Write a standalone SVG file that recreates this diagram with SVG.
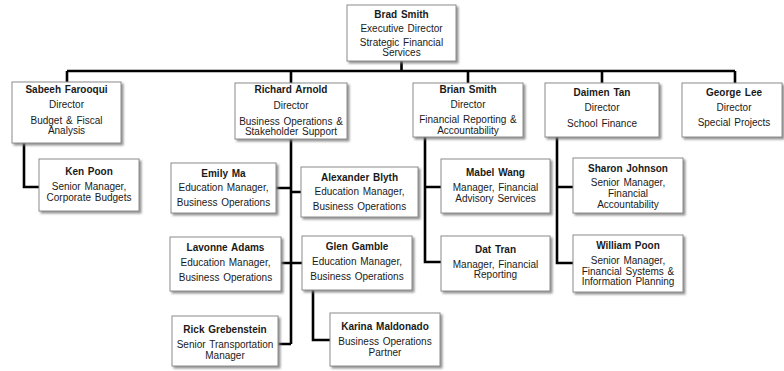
<svg xmlns="http://www.w3.org/2000/svg" width="784" height="371" viewBox="0 0 784 371">
<defs>
<filter id="sh" x="-10%" y="-10%" width="125%" height="130%">
<feDropShadow dx="2" dy="2" stdDeviation="1.2" flood-color="#777" flood-opacity="0.8"/>
</filter>
</defs>
<style>
rect{fill:#fff;stroke:#8c8c8c;stroke-width:1;filter:url(#sh)}
text{font-family:"Liberation Sans",Arial,sans-serif;font-size:10px;fill:#1a1a1a;text-anchor:middle;word-spacing:1px}
.b{font-weight:bold;font-size:10px}
#connectors path{fill:none;stroke:#000;stroke-width:2.6}
</style>
<rect x="0" y="0" width="784" height="371" style="fill:#fff;stroke:none;filter:none"/>
<g id="connectors">
<path d="M401.5 61V71M67 71H735M67 71V82M291 71V83M468 71V83M602 71V83M735 71V83"/>
<path d="M24 143V187H39"/>
<path d="M291 139V344M276 188H291M291 192H301M281 263H302M278 344H291"/>
<path d="M313 290V340H330"/>
<path d="M425 137V262H441M425 187H441"/>
<path d="M557 137V263H573M557 187H573"/>
</g>
<g id="brad"><rect x="347" y="5" width="109" height="56"/>
<text x="401.5" y="17.5" class="b">Brad Smith</text><text x="401.5" y="31.5">Executive Director</text><text x="401.5" y="46">Strategic Financial</text><text x="401.5" y="56">Services</text></g>
<g id="sabeeh"><rect x="12" y="82" width="109" height="61"/>
<text x="66.5" y="92.5" class="b">Sabeeh Farooqui</text><text x="66.5" y="107.5">Director</text><text x="66.5" y="123.5">Budget &amp; Fiscal</text><text x="66.5" y="134">Analysis</text></g>
<g id="richard"><rect x="235" y="83" width="112" height="56"/>
<text x="291" y="92.5" class="b">Richard Arnold</text><text x="291" y="108.5">Director</text><text x="291" y="124.5">Business Operations &amp;</text><text x="291" y="134.5">Stakeholder Support</text></g>
<g id="brian"><rect x="413" y="83" width="110" height="54"/>
<text x="468" y="92.5" class="b">Brian Smith</text><text x="468" y="107.5">Director</text><text x="468" y="123">Financial Reporting &amp;</text><text x="468" y="133.5">Accountability</text></g>
<g id="daimen"><rect x="545" y="83" width="114" height="54"/>
<text x="602" y="96" class="b">Daimen Tan</text><text x="602" y="110.5">Director</text><text x="602" y="127">School Finance</text></g>
<g id="george"><rect x="682" y="83" width="100" height="54"/>
<text x="734" y="96" class="b">George Lee</text><text x="734" y="110.5">Director</text><text x="734" y="125.5">Special Projects</text></g>
<g id="ken"><rect x="39" y="159" width="100" height="52"/>
<text x="89" y="175" class="b">Ken Poon</text><text x="89" y="190">Senior Manager,</text><text x="89" y="201">Corporate Budgets</text></g>
<g id="emily"><rect x="171" y="163" width="105" height="50"/>
<text x="223.5" y="176.5" class="b">Emily Ma</text><text x="223.5" y="191">Education Manager,</text><text x="223.5" y="206">Business Operations</text></g>
<g id="alexander"><rect x="301" y="167" width="117" height="50"/>
<text x="359.5" y="180.5" class="b">Alexander Blyth</text><text x="359.5" y="195">Education Manager,</text><text x="359.5" y="210">Business Operations</text></g>
<g id="mabel"><rect x="441" y="159" width="109" height="54"/>
<text x="495.5" y="175.5" class="b">Mabel Wang</text><text x="495.5" y="191">Manager, Financial</text><text x="495.5" y="202">Advisory Services</text></g>
<g id="sharon"><rect x="573" y="158" width="110" height="55"/>
<text x="628" y="171.5" class="b">Sharon Johnson</text><text x="628" y="186">Senior Manager,</text><text x="628" y="197">Financial</text><text x="628" y="208">Accountability</text></g>
<g id="lavonne"><rect x="170" y="237" width="111" height="54"/>
<text x="225.5" y="250.5" class="b">Lavonne Adams</text><text x="225.5" y="265.5">Education Manager,</text><text x="225.5" y="280.5">Business Operations</text></g>
<g id="glen"><rect x="302" y="236" width="110" height="54"/>
<text x="357" y="250" class="b">Glen Gamble</text><text x="357" y="265">Education Manager,</text><text x="357" y="280">Business Operations</text></g>
<g id="dat"><rect x="441" y="236" width="109" height="55"/>
<text x="495.5" y="252.5" class="b">Dat Tran</text><text x="495.5" y="267.5">Manager, Financial</text><text x="495.5" y="278">Reporting</text></g>
<g id="william"><rect x="573" y="235" width="110" height="57"/>
<text x="628" y="248.5" class="b">William Poon</text><text x="628" y="264">Senior Manager,</text><text x="628" y="275">Financial Systems &amp;</text><text x="628" y="285">Information Planning</text></g>
<g id="rick"><rect x="172" y="316" width="106" height="50"/>
<text x="225" y="333" class="b">Rick Grebenstein</text><text x="225" y="348">Senior Transportation</text><text x="225" y="359">Manager</text></g>
<g id="karina"><rect x="330" y="313" width="110" height="53"/>
<text x="385" y="329.5" class="b">Karina Maldonado</text><text x="385" y="344.5">Business Operations</text><text x="385" y="355.5">Partner</text></g>
</svg>
